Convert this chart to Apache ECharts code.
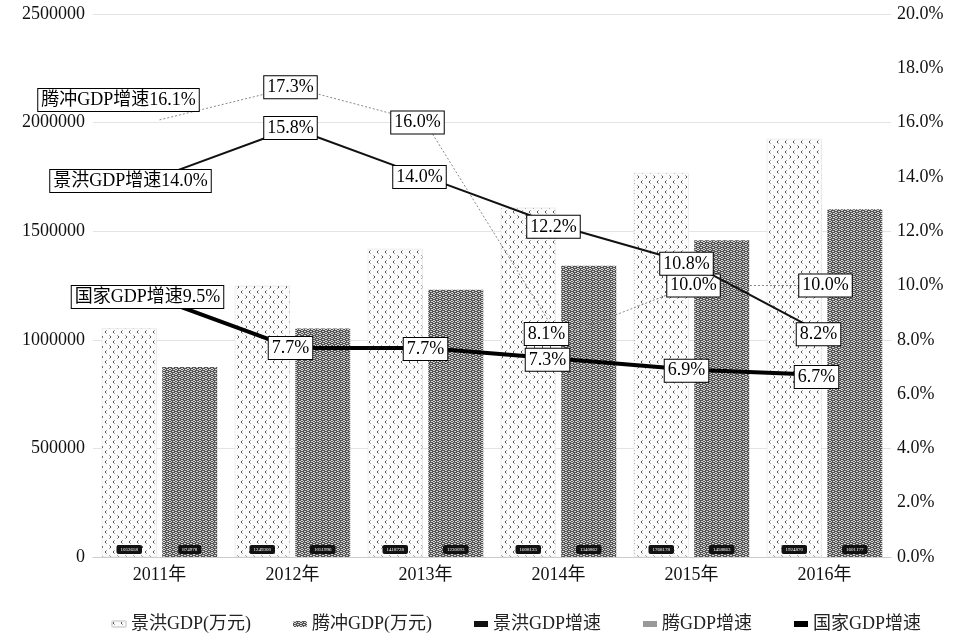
<!DOCTYPE html>
<html><head><meta charset="utf-8">
<script src="https://cdn.jsdelivr.net/npm/echarts@6/dist/echarts.min.js"></script>
<style>html,body{margin:0;padding:0;background:#fff}#c{width:958px;height:644px}</style>
</head><body><div id="c"></div>
<script>
const categories = ['2011年','2012年','2013年','2014年','2015年','2016年'];
const jhGDP = [1052658, 1249300, 1418728, 1608125, 1768178, 1924870];
const tcGDP = [874978, 1051996, 1230093, 1340862, 1458863, 1601177];
const jhGrowth = [14.0, 15.8, 14.0, 12.2, 10.8, 8.2];
const tcGrowth = [16.1, 17.3, 16.0, 8.1, 10.0, 10.0];
const cnGrowth = [9.5, 7.7, 7.7, 7.3, 6.9, 6.7];
const seriesNames = ['景洪GDP(万元)', '腾冲GDP(万元)', '景洪GDP增速', '腾GDP增速', '国家GDP增速'];
const firstLabelNames = ['景洪GDP增速', '腾冲GDP增速', '国家GDP增速'];

const FONT = '"Liberation Serif", "Noto Sans CJK SC", serif';

function patternLight() {
  const c = document.createElement('canvas'); c.width = 8; c.height = 10;
  const g = c.getContext('2d');
  g.fillStyle = '#fbfbfb'; g.fillRect(0,0,8,10);
  g.strokeStyle = '#555'; g.lineWidth = 1;
  g.beginPath(); g.moveTo(2.5,0.5); g.lineTo(1,2); g.lineTo(2.5,3.5); g.stroke();
  g.beginPath(); g.moveTo(5.5,5.5); g.lineTo(7,7); g.lineTo(5.5,8.5); g.stroke();
  return c;
}
function patternDark() {
  const c = document.createElement('canvas'); c.width = 6; c.height = 4;
  const g = c.getContext('2d');
  g.fillStyle = '#555'; g.fillRect(0,0,6,4);
  g.fillStyle = '#d4d4d4';
  g.fillRect(1,0,2,1); g.fillRect(0,1,1,1); g.fillRect(3,1,1,1); g.fillRect(1,2,2,1);
  g.fillRect(4,3,2,1); g.fillRect(5,1,1,1);
  return c;
}

const boxLabel = {
  show: true, position: 'inside', color: '#000', fontFamily: FONT, fontSize: 18,
  backgroundColor: '#fff', borderColor: '#000', borderWidth: 1, padding: [3, 3, 1, 3],
  formatter: p => p.value.toFixed(1) + '%'
};

function lineData(vals, firstName) {
  return vals.map((v, i) => {
    const item = { value: v };
    if (i === 0) item.label = { formatter: firstName + v.toFixed(1) + '%' };
    return item;
  });
}

const jhOffsets = [[-29, 4], [-2, 0], [-6, 0], [-5, 1], [-5, 0], [-6, 0]];
const tcOffsets = [[-41, -20], [-2, 0], [-8, 0], [-12, -3], [2, 0], [1, 0]];
const cnOffsets = [[-12, -2], [-2, 0], [0, 1], [-11, 1], [-5, 1], [-8, 2]];
function layoutFor(offs) {
  return p => ({ dx: offs[p.dataIndex][0], dy: offs[p.dataIndex][1], hideOverlap: false });
}

const barLabel = {
  show: true, position: 'insideBottom', distance: 3, fontSize: 5, color: '#fff',
  backgroundColor: '#111', padding: [2, 4], borderRadius: 2, fontFamily: FONT
};

const lineCommon = { symbol: 'circle', symbolSize: 0.1, showSymbol: true, label: boxLabel };

const chart = echarts.init(document.getElementById('c'));
chart.setOption({
  animation: false,
  textStyle: { fontFamily: FONT },
  grid: { left: 93, right: 67, top: 14, bottom: 87 },
  legend: {
    bottom: 6, left: 106, itemGap: 42, itemWidth: 14, itemHeight: 6,
    textStyle: { fontFamily: FONT, fontSize: 18, color: '#222' },
    data: [
      { name: seriesNames[0] }, { name: seriesNames[1] },
      { name: seriesNames[2], icon: 'rect', itemStyle: { color: '#111' } },
      { name: seriesNames[3], icon: 'rect', itemStyle: { color: '#999' } },
      { name: seriesNames[4], icon: 'rect', itemStyle: { color: '#000' } }
    ]
  },
  xAxis: {
    type: 'category', data: categories,
    axisLine: { lineStyle: { color: '#ccc' } }, axisTick: { show: false },
    axisLabel: { color: '#111', fontSize: 18, fontFamily: FONT, margin: 9 }
  },
  yAxis: [
    { type: 'value', min: 0, max: 2500000, interval: 500000,
      axisLabel: { color: '#111', fontSize: 18, fontFamily: FONT, margin: 8, formatter: v => String(v) },
      splitLine: { lineStyle: { color: '#e4e4e4' } } },
    { type: 'value', min: 0, max: 20, interval: 2,
      axisLabel: { color: '#111', fontSize: 18, fontFamily: FONT, margin: 6, formatter: v => v.toFixed(1) + '%' },
      splitLine: { show: false } }
  ],
  series: [
    { name: seriesNames[0], type: 'bar', data: jhGDP, barWidth: 55, barGap: '10%',
      itemStyle: { color: { image: patternLight(), repeat: 'repeat' }, borderColor: '#ddd', borderWidth: 0.5 },
      label: barLabel },
    { name: seriesNames[1], type: 'bar', data: tcGDP, barWidth: 55, barGap: '10%',
      itemStyle: { color: { image: patternDark(), repeat: 'repeat' } },
      label: barLabel },
    Object.assign({ name: seriesNames[2], type: 'line', yAxisIndex: 1, data: lineData(jhGrowth, firstLabelNames[0]),
      lineStyle: { color: '#111', width: 2 }, itemStyle: { color: '#111' }, z: 5, labelLayout: layoutFor(jhOffsets) }, lineCommon),
    Object.assign({ name: seriesNames[3], type: 'line', yAxisIndex: 1, data: lineData(tcGrowth, firstLabelNames[1]),
      lineStyle: { color: '#888', width: 1, type: [2, 2] }, itemStyle: { color: '#999' }, z: 4, labelLayout: layoutFor(tcOffsets) }, lineCommon),
    Object.assign({ name: seriesNames[4], type: 'line', yAxisIndex: 1, data: lineData(cnGrowth, firstLabelNames[2]),
      lineStyle: { color: '#000', width: 4 }, itemStyle: { color: '#000' }, z: 6, labelLayout: layoutFor(cnOffsets) }, lineCommon)
  ]
});
</script></body></html>
